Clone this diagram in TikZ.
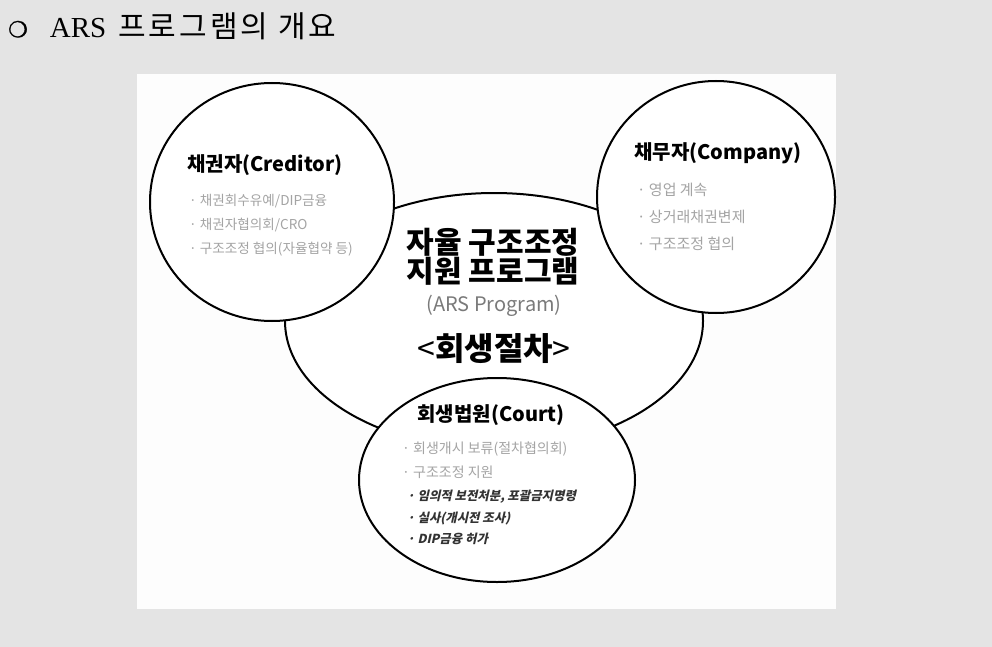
\documentclass[tikz,border=0pt]{standalone}
\usepackage{fontspec}
\setmainfont{Liberation Serif}
\newfontfamily\kr{Noto Sans CJK KR}
\newfontfamily\krsl{Noto Sans CJK KR}[FakeSlant=0.22]
\newfontfamily\krtrack{Noto Sans CJK KR}[LetterSpace=10]
\newfontfamily\dingf{DejaVu Sans}[FakeBold=1.5]
\definecolor{bggray}{HTML}{E4E4E4}
\definecolor{panelwhite}{HTML}{FDFDFD}
\definecolor{itemgray}{HTML}{A4A4A4}
\definecolor{subgray}{HTML}{7A7A7A}
\definecolor{darkitem}{HTML}{333333}
\begin{document}
\begin{tikzpicture}[x=1pt,y=-1pt,
  bubble/.style={draw=black, line width=2pt, fill=white},
  headtext/.style={font=\kr\bfseries\fontsize{20}{24}\selectfont, inner sep=0pt},
  credlist/.style={font=\kr\fontsize{13.6}{24}\selectfont, text=itemgray, anchor=north west, align=left, inner sep=0pt},
  complist/.style={font=\kr\fontsize{15}{27}\selectfont, text=itemgray, anchor=north west, align=left, inner sep=0pt},
  courtlist/.style={font=\kr\fontsize{14}{23.5}\selectfont, text=itemgray, anchor=north west, align=left, inner sep=0pt},
  courtbold/.style={font=\krsl\bfseries\fontsize{12.4}{21.5}\selectfont, text=darkitem, anchor=north west, align=left, inner sep=0pt},
  bigtext/.style={font=\kr\bfseries\fontsize{30}{29}\selectfont, align=center, inner sep=0pt}
]
% background and panel
\fill[bggray] (0,0) rectangle (992,647);
\fill[panelwhite] (137,74) rectangle (836,609);
\useasboundingbox (0,0) rectangle (992,647);

% title
\node[anchor=west, inner sep=0pt] (title) at (8,26)
  {{\dingf\fontsize{22}{24}\selectfont ❍}\hspace{22pt}{\fontsize{29}{32}\selectfont ARS}\hspace{12pt}{\krtrack\fontsize{30}{32}\selectfont 프로그램의 개요}};

% ellipses (centre first, then the three circles over it)
\draw[bubble] (494,321) ellipse [x radius=209, y radius=128];
\draw[bubble] (272,202) ellipse [x radius=122, y radius=119];
\draw[bubble] (716,197) ellipse [x radius=119, y radius=116];
\draw[bubble] (497,480) ellipse [x radius=138, y radius=102];

% creditor
\node[headtext, anchor=west] (credhead) at (187,165) {채권자(Creditor)};
\node[credlist] (credlist) at (189,194) {· 채권회수유예/DIP금융\\· 채권자협의회/CRO\\· 구조조정 협의(자율협약 등)};

% company
\node[headtext, anchor=west] (comphead) at (634,153) {채무자(Company)};
\node[complist] (complist) at (637,183) {· 영업 계속\\· 상거래채권변제\\· 구조조정 협의};

% centre
\node[bigtext] (centre) at (493,257) {자율 구조조정\\지원 프로그램};
\node[font=\kr\fontsize{20}{24}\selectfont, text=subgray, inner sep=0pt] (ars) at (494,306) {(ARS Program)};
\node[inner sep=0pt] (rehab) at (494,349) {{\kr\fontsize{32}{32}\selectfont <}{\kr\bfseries\fontsize{32}{32}\selectfont 회생절차}{\kr\fontsize{32}{32}\selectfont >}};

% court
\node[headtext] (courthead) at (491,415) {회생법원(Court)};
\node[courtlist] (courtlist) at (402,442) {· 회생개시 보류(절차협의회)\\· 구조조정 지원};
\node[courtbold] (courtbold) at (407,490) {· 임의적 보전처분, 포괄금지명령\\· 실사(개시전 조사)\\· DIP금융 허가};
\end{tikzpicture}
\end{document}
